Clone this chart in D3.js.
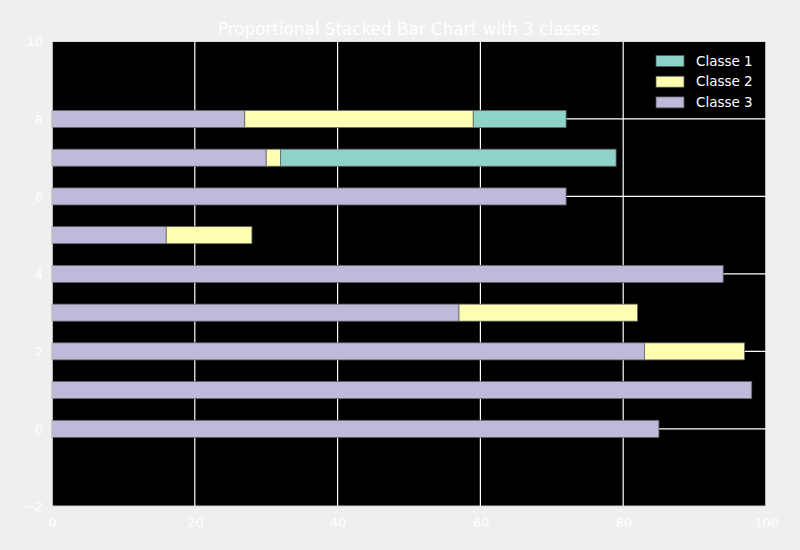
<!DOCTYPE html>
<html><head><meta charset="utf-8">
<script src="https://cdn.jsdelivr.net/npm/d3@7"></script>
<style>html,body{margin:0;padding:0;background:#efefef;}svg{display:block;}</style>
</head><body>
<script>
const rows = [0,1,2,3,4,5,6,7,8];
const classes = ["Classe 1","Classe 2","Classe 3"];
const classe3 = [85,98,83,57,94,16,72,30,27];
const classe2 = [0,0,14,25,0,12,0,2,32];
const classe1 = [0,0,0,0,0,0,0,47,13];
const xTicks = [0,20,40,60,80,100];
const yTicks = [-2,0,2,4,6,8,10];
const colors = {"Classe 1":"#8dd3c7","Classe 2":"#ffffb3","Classe 3":"#bebada"};
const title = "Proportional Stacked Bar Chart with 3 classes";

const W=800,H=550;
const m={l:52,r:34,t:41.5,b:43.7};
const svg=d3.select("body").append("svg").attr("width",W).attr("height",H);
svg.append("rect").attr("width",W).attr("height",H).attr("fill","#efefef");
const x=d3.scaleLinear().domain([0,100]).range([m.l,W-m.r]);
const y=d3.scaleLinear().domain([-2,10]).range([H-m.b,m.t]);
const font="DejaVu Sans";

svg.append("rect").attr("x",x(0)).attr("y",y(10)).attr("width",x(100)-x(0)).attr("height",y(-2)-y(10)).attr("fill","#000");

// grid
const g=svg.append("g");
g.selectAll(".vg").data(xTicks).join("line").attr("x1",d=>x(d)).attr("x2",d=>x(d)).attr("y1",y(10)).attr("y2",y(-2)).attr("stroke","#fff").attr("stroke-width",1.2);
g.selectAll(".hg").data(yTicks).join("line").attr("y1",d=>y(d)).attr("y2",d=>y(d)).attr("x1",x(0)).attr("x2",x(100)).attr("stroke","#fff").attr("stroke-width",1.2);

// stacked data: order Classe 3, Classe 2, Classe 1
const table=rows.map((r,i)=>({row:r,"Classe 3":classe3[i],"Classe 2":classe2[i],"Classe 1":classe1[i]}));
const stack=d3.stack().keys(["Classe 3","Classe 2","Classe 1"])(table);
const bh=0.44;
stack.forEach(s=>{
  svg.append("g").selectAll("rect").data(s.filter(d=>d[1]-d[0]>0)).join("rect")
    .attr("x",d=>x(d[0])).attr("width",d=>x(d[1])-x(d[0]))
    .attr("y",d=>y(d.data.row+bh/2)).attr("height",y(0)-y(bh))
    .attr("fill",colors[s.key]).attr("stroke","#666").attr("stroke-width",0.8);
});

// frame
svg.append("rect").attr("x",x(0)).attr("y",y(10)).attr("width",x(100)-x(0)).attr("height",y(-2)-y(10)).attr("fill","none").attr("stroke","#ddd").attr("stroke-width",1);

// axes
const xa=svg.append("g").attr("transform",`translate(0,${y(-2)})`).call(d3.axisBottom(x).tickValues(xTicks).tickSize(0).tickPadding(11).tickFormat(d3.format("d")));
const ya=svg.append("g").attr("transform",`translate(${x(0)},0)`).call(d3.axisLeft(y).tickValues(yTicks).tickSize(0).tickPadding(9).tickFormat(d=>d<0?"\u2212"+(-d):d));
[xa,ya].forEach(a=>{a.select(".domain").remove();a.selectAll("text").attr("fill","#fff").attr("font-family",font).attr("font-size",13);});

svg.append("text").attr("x",(x(0)+x(100))/2).attr("y",35).attr("text-anchor","middle").attr("fill","#fff").attr("font-family",font).attr("font-size",16.8).text(title);

// legend
const lg=svg.append("g");
classes.forEach((c,i)=>{
  const yy=61+i*20.7;
  lg.append("rect").attr("x",656).attr("y",yy-5.5).attr("width",28).attr("height",11).attr("fill",colors[c]).attr("stroke","#555").attr("stroke-width",0.8);
  lg.append("text").attr("x",696).attr("y",yy).attr("dy","0.35em").attr("fill","#fff").attr("font-family",font).attr("font-size",13.5).text(c);
});
</script>
</body></html>
